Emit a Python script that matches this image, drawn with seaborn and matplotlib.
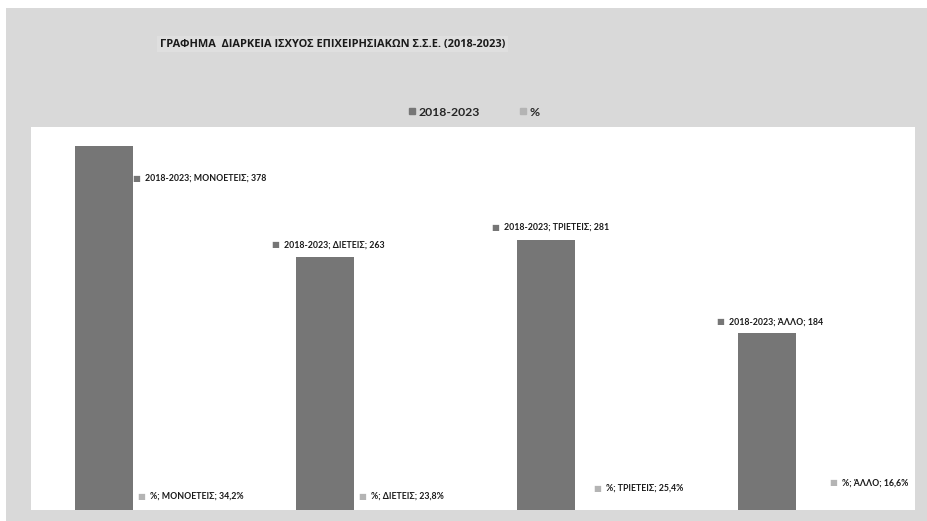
import pandas as pd
import numpy as np
import matplotlib
matplotlib.use('Agg')
import matplotlib.pyplot as plt
import seaborn as sns
from matplotlib.patches import Rectangle
from matplotlib.lines import Line2D

# donnees
categories = ['ΜΟΝΟΕΤΕΙΣ', 'ΔΙΕΤΕΙΣ', 'ΤΡΙΕΤΕΙΣ', 'ΆΛΛΟ']
counts = [378, 263, 281, 184]
shares = [0.342, 0.238, 0.254, 0.166]
series = ['2018-2023', '%']

df = pd.DataFrame({
    'cat': categories * 2,
    'serie': [series[0]] * 4 + [series[1]] * 4,
    'val': counts + shares,
})

dark = '#767676'
light = '#b4b4b4'

sns.set_theme(style='white')
plt.rcParams['font.family'] = ['Lato', 'DejaVu Sans']

fig = plt.figure(figsize=(9.27, 5.21), dpi=100)
fig.patch.set_facecolor('white')
# fond gris
fig.patches.append(Rectangle((6 / 927, 0), 1, 1 - 8 / 521, transform=fig.transFigure,
                             facecolor='#d9d9d9', edgecolor='none', zorder=-10))

ax = fig.add_axes([31 / 927, 11 / 521, 884 / 927, 383 / 521])
sns.barplot(data=df, x='cat', y='val', hue='serie', palette=[dark, light],
            width=0.68, gap=0.23, order=categories, ax=ax, legend=False,
            saturation=1, linewidth=0)
ax.set_ylim(0, 398)
ax.set_xlim(-0.5, 3.5)
ax.set_xlabel('')
ax.set_ylabel('')
ax.set_xticks([])
ax.set_yticks([])
for s in ax.spines.values():
    s.set_visible(False)
ax.set_facecolor('white')

# etiquettes (decalages en pixels depuis le coin haut-gauche de la barre)
off_dark = [(3, -32), (-21, 12), (-22, 12), (-18, 11)]
off_light = [(-9, 14), (-9, 14), (5, 22), (20, 27)]

bars_dark = ax.containers[0]
bars_light = ax.containers[1]
fs = 6.3
for i, b in enumerate(bars_dark):
    x0 = b.get_x()
    if i == 0:
        x0 = b.get_x() + b.get_width()
    dx, dy = off_dark[i]
    ax.annotate('■', xy=(x0, b.get_height()), xytext=(dx, dy), textcoords='offset pixels',
                color=dark, fontsize=6, ha='center', va='center', family='DejaVu Sans')
    ax.annotate(f'{series[0]}; {categories[i]}; {counts[i]}', xy=(x0, b.get_height()),
                xytext=(dx + 9, dy), textcoords='offset pixels', color='#1a1a1a',
                fontsize=fs, ha='left', va='center', fontweight='bold')

for i, b in enumerate(bars_light):
    x0 = b.get_x()
    dx, dy = off_light[i]
    pct = f'{shares[i] * 100:.1f}'.replace('.', ',')
    ax.annotate('■', xy=(x0, 0), xytext=(dx, dy), textcoords='offset pixels',
                color=light, fontsize=6, ha='center', va='center', family='DejaVu Sans')
    ax.annotate(f'{series[1]}; {categories[i]}; {pct}%', xy=(x0, 0),
                xytext=(dx + 9, dy), textcoords='offset pixels', color='#1a1a1a',
                fontsize=fs, ha='left', va='center', fontweight='bold')

# titre
fig.text(160 / 927, 1 - 44 / 521, 'ΓΡΑΦΗΜΑ  ΔΙΑΡΚΕΙΑ ΙΣΧΥΟΣ ΕΠΙΧΕΙΡΗΣΙΑΚΩΝ Σ.Σ.Ε. (2018-2023)',
         fontsize=7.9, fontweight='bold', color='#1a1a1a', ha='left', va='center',
         family=['Open Sans', 'DejaVu Sans'],
         bbox=dict(facecolor='#dfdfdf', edgecolor='none', pad=2))

# legende
handles = [Line2D([], [], marker='s', linestyle='', color=dark, markersize=5),
           Line2D([], [], marker='s', linestyle='', color=light, markersize=5)]
fig.legend(handles, series, loc='center', bbox_to_anchor=(474 / 927, 1 - 112 / 521),
           ncol=2, frameon=False, handlelength=0.6, handletextpad=0.2,
           columnspacing=3.3, prop={'weight': 'bold', 'size': 8.8})

plt.savefig('out.png', dpi=100)
